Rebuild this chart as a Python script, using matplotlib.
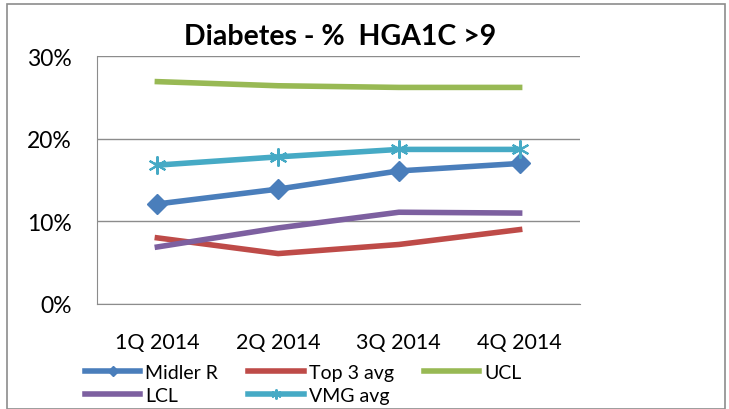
import matplotlib.pyplot as plt
import matplotlib.ticker as mtick

plt.rcParams['font.family'] = ['Lato', 'DejaVu Sans']

quarters = ['1Q 2014', '2Q 2014', '3Q 2014', '4Q 2014']
midler_r = [12.1, 13.9, 16.1, 17.0]
top3_avg = [8.0, 6.1, 7.2, 9.0]
ucl = [26.9, 26.4, 26.2, 26.2]
lcl = [6.9, 9.2, 11.1, 11.0]
vmg_avg = [16.8, 17.8, 18.7, 18.7]

fig = plt.figure(figsize=(7.29, 4.10), dpi=100)
ax = fig.add_axes([97/729, 1 - 305/410, 483/729, 248/410])

x = range(len(quarters))
h1, = ax.plot(x, midler_r, color='#4a7ebb', lw=4, marker='D', ms=10, label='Midler R')
h2, = ax.plot(x, top3_avg, color='#be4b48', lw=4, label='Top 3 avg')
h3, = ax.plot(x, ucl, color='#98b954', lw=4, label='UCL')
h4, = ax.plot(x, lcl, color='#7d60a0', lw=4, label='LCL')
h5, = ax.plot(x, vmg_avg, color='#46aac5', lw=4, marker=(6, 2, 0), ms=13, mew=1.5,
              label='VMG avg')

ax.set_xlim(-0.5, 3.5)
ax.set_ylim(0, 30)
ax.set_yticks([0, 10, 20, 30])
ax.yaxis.set_major_formatter(mtick.FuncFormatter(lambda v, p: '%d%%' % v))
ax.set_xticks(list(x))
ax.set_xticklabels(quarters)
ax.tick_params(axis='both', length=0, colors='black')
ax.tick_params(axis='y', pad=18, labelsize=16.5)
ax.tick_params(axis='x', pad=20, labelsize=15.5)
ax.grid(axis='y', color='#8c8c8c', lw=1)
ax.set_axisbelow(True)
for s in ['top', 'right']:
    ax.spines[s].set_visible(False)
for s in ['left', 'bottom']:
    ax.spines[s].set_color('#8c8c8c')

fig.text(340/729, 1 - 37/410, 'Diabetes - %  HGA1C >9', ha='center', va='center',
         fontsize=20.5, fontweight='bold')

# matplotlib fills legend columns first, so reorder to get Excel's row order
handles = [h1, h4, h2, h5, h3]
fig.legend(handles, [h.get_label() for h in handles],
           loc='upper left', bbox_to_anchor=(85/729, 1 - 365/410), ncol=3,
           frameon=False, fontsize=14, handlelength=2.85, handletextpad=0.25,
           columnspacing=1.55, labelspacing=0.3, borderaxespad=0, borderpad=0,
           markerscale=0.55)

border = plt.Rectangle((7/729, 0), 718/729, 1 - 5/410, transform=fig.transFigure,
                       fill=False, edgecolor='#8c8c8c', lw=1.2)
fig.patches.append(border)

fig.savefig('out.png', dpi=100)
